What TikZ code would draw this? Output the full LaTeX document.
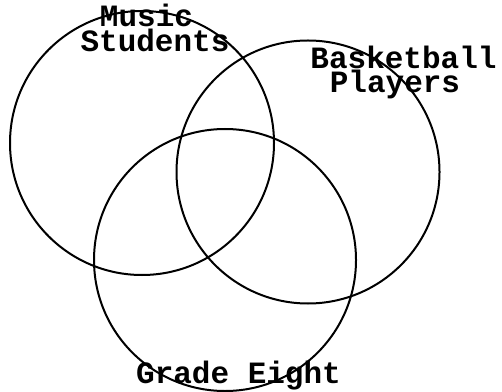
\documentclass[tikz,border=0pt]{standalone}
\usepackage{fontspec}
\newfontfamily\typewriter{Liberation Mono}
\usepackage{tikz}

\tikzset{
  venntext/.style={font=\fontsize{31}{21}\selectfont\typewriter\bfseries, anchor=base, inner sep=0pt},
  venncircle/.style={black, line width=2pt}
}

\begin{document}
\begin{tikzpicture}[x=1pt,y=1pt]
\useasboundingbox (0,0) rectangle (502,391);
\draw[venncircle] (142,248) circle (132);
\draw[venncircle] (308,219) circle (131.5);
\draw[venncircle] (225,131) circle (131);
\node[venntext] (music) at (146.5,364) {Music};
\node[venntext] (students) at (155,339) {Students};
\node[venntext] (basket) at (403.5,322) {Basketball};
\node[venntext] (players) at (395,298) {Players};
\node[venntext] (grade) at (238.5,8) {Grade Eight};
\end{tikzpicture}
\end{document}
